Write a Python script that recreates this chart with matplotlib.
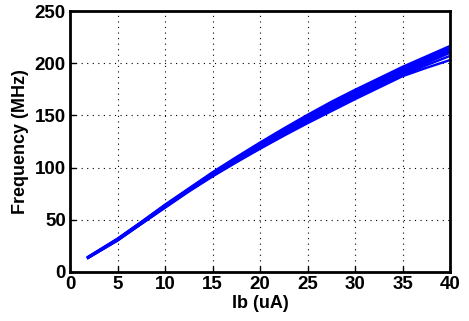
import matplotlib
matplotlib.use("Agg")
import matplotlib.pyplot as plt

ib = [1.9, 5, 7.5, 10, 12.5, 15, 17.5, 20, 22.5, 25, 27.5, 30, 32.5, 35, 37.5, 40]
series = [
    [14.5, 32, 48, 64.5, 80, 95.5, 110, 124, 137.5, 150.5, 163, 174.5, 185.5, 196.5, 206.5, 216.5],
    [14.5, 31.5, 47.5, 64, 79.5, 95, 109, 123, 136.5, 149.5, 161.5, 173, 184, 195, 205, 215],
    [14, 31.5, 47.5, 63.5, 79, 94.5, 108.5, 122, 135.5, 148, 160, 172, 183, 194, 203.5, 213.5],
    [14, 31, 47, 63, 78.5, 93.5, 108, 121.5, 134.5, 147, 159, 170.5, 181.5, 192.5, 202.5, 212.5],
    [14, 31, 47, 63, 78, 93, 107, 120.5, 133.5, 145.5, 157.5, 169, 180, 191, 201, 211.5],
    [13.5, 30.5, 46.5, 62.5, 78, 92.5, 106, 119.5, 132, 144.5, 156.5, 168, 179, 190, 200, 210],
    [13.5, 30.5, 46, 62, 77.5, 92, 105.5, 118.5, 131, 143.5, 155, 166.5, 177.5, 188.5, 198, 207],
    [13.5, 30, 46, 61.5, 77, 91.5, 105, 118, 130.5, 142.5, 154, 165.5, 176.5, 187.5, 195.5, 203],
]
xticks = [0, 5, 10, 15, 20, 25, 30, 35, 40]
yticks = [0, 50, 100, 150, 200, 250]

plt.rcParams['font.family'] = ['Liberation Sans', 'DejaVu Sans']
plt.rcParams['font.weight'] = 'bold'

fig = plt.figure(figsize=(4.69, 3.21), dpi=100)
ax = fig.add_axes([70/469, 1 - 272/321, (450-70)/469, (272-11)/321])
for s in series:
    ax.plot(ib, s, color=(0, 0, 1), lw=1.7)
ax.set_xlim(0, 40)
ax.set_ylim(0, 250)
ax.set_xticks(xticks)
ax.set_yticks(yticks)
ax.tick_params(direction='in', length=4, width=1, labelsize=13.5, pad=3)
for lab in ax.get_xticklabels() + ax.get_yticklabels():
    lab.set_fontweight('bold')
for sp in ax.spines.values():
    sp.set_linewidth(2)
ax.grid(True, linestyle=(0, (1, 4)), color='black', lw=0.8)
ax.set_xlabel('Ib (uA)', fontsize=13, fontweight='bold', labelpad=1)
ax.set_ylabel('Frequency (MHz)', fontsize=13, fontweight='bold', labelpad=4)
fig.savefig('out.png', dpi=100)
